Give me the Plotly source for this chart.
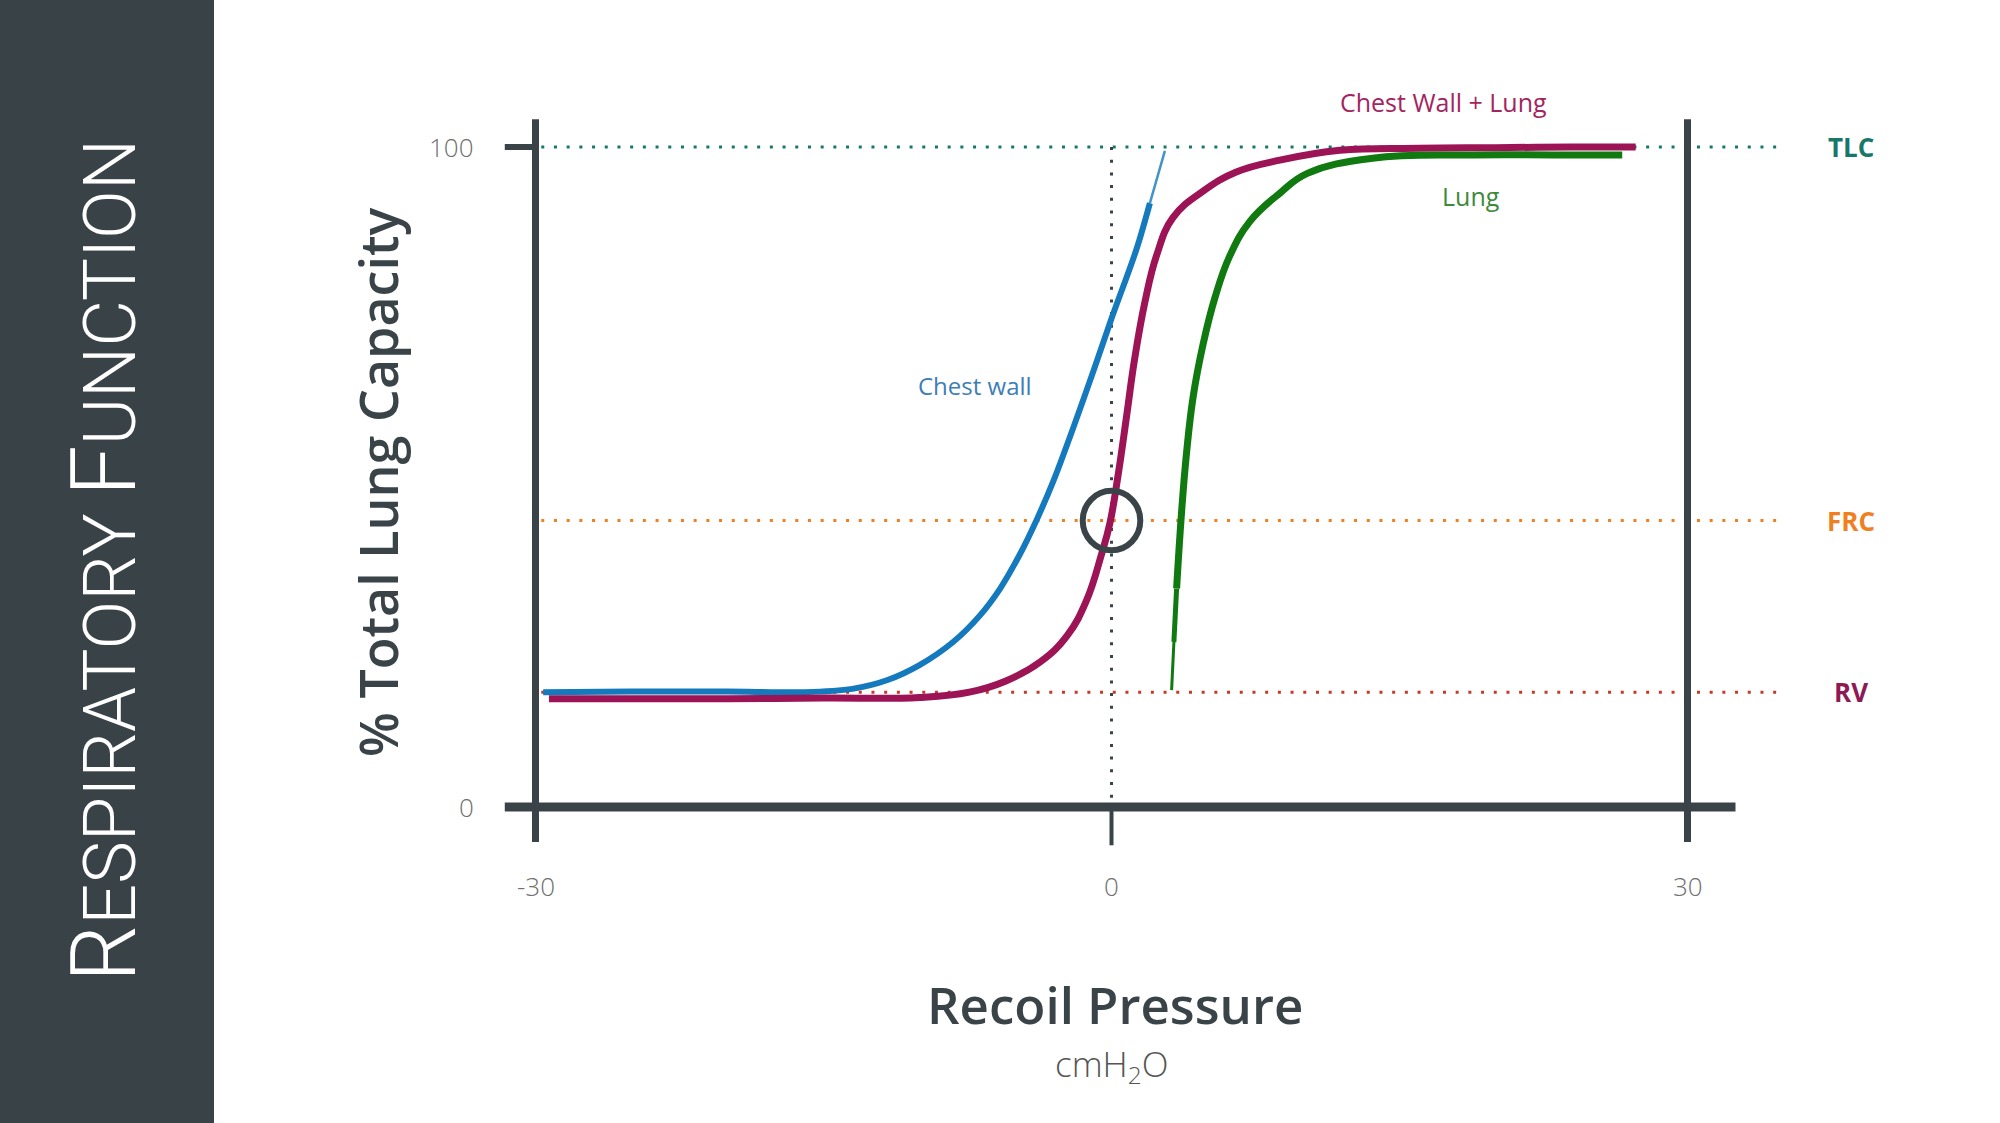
import plotly.graph_objects as go

# ---------------- data ----------------
# Chest wall compliance curve (pressure cmH2O, % TLC)
chest_wall_p = [-29.6, -25, -20, -16, -13.5, -11.7, -10, -8.25, -6.86, -5.8, -4.77, -3.9, -3.04, -2.0, -0.95, 0.0, 1.3, 2.0, 2.78]
chest_wall_v = [17.4, 17.5, 17.5, 17.4, 17.9, 19.2, 21.5, 25.0, 29.0, 33.1, 38.3, 43.5, 49.3, 57.4, 66.0, 74.0, 84.5, 91.5, 99.4]

# Chest wall + lung
combined_p = [-29.3, -25, -20, -15, -10, -7.4, -5.5, -3.7, -2.3, -1.3, -0.52, -0.09, 0.35, 0.78, 1.2, 1.74, 2.34, 3.2, 4.77, 6.5, 8.77, 11.9, 16, 20, 24, 27.3]
combined_v = [16.4, 16.4, 16.4, 16.5, 16.6, 17.4, 19.1, 22.0, 26.0, 31.3, 38.3, 42.9, 50.4, 59.1, 67.8, 76.5, 83.5, 89.3, 93.3, 96.2, 98.0, 99.5, 99.8, 99.9, 100.0, 100.0]

# Lung
lung_p = [3.13, 3.25, 3.39, 3.65, 3.9, 4.25, 4.77, 5.38, 6.16, 7.2, 8.77, 10.2, 13.6, 18.9, 23, 26.6]
lung_v = [17.7, 25.0, 33.1, 44.7, 53.4, 62.1, 70.1, 77.1, 83.5, 88.7, 93.0, 96.0, 98.3, 98.8, 98.8, 98.8]

# Reference volumes (% TLC)
ref_names = ["TLC", "FRC", "RV"]
ref_values = [100, 43.4, 17.4]

x_ticks = [-30, 0, 30]
x_tick_labels = ["-30", "0", "30"]
y_ticks = [0, 100]
y_tick_labels = ["0", "100"]

# ---------------- styling ----------------
W, H = 2000, 1123
ZERO_PX_X, PX_PER_P = 1111.5, 19.2
ZERO_PX_Y, PX_PER_V = 807.0, 6.6
xr = [(0 - ZERO_PX_X) / PX_PER_P, (W - ZERO_PX_X) / PX_PER_P]
yr = [(ZERO_PX_Y - H) / PX_PER_V, ZERO_PX_Y / PX_PER_V]

DARK = "#3a4448"
BLUE = "#1479bd"
PURPLE = "#9c1456"
GREEN = "#107a10"
TEAL = "#17786a"
ORANGE = "#f07f1f"
RVRED = "#c23a2a"
ref_line_colors = [TEAL, ORANGE, RVRED]
ref_label_colors = [TEAL, ORANGE, "#8e1a55"]
FONT = "Open Sans"

fig = go.Figure()

def line(x, y, color, width, dash=None, shape="linear", opacity=1.0, smoothing=1.0):
    ld = dict(color=color, width=width, dash=dash, shape=shape)
    if shape == "spline":
        ld["smoothing"] = smoothing
    fig.add_trace(go.Scatter(x=x, y=y, mode="lines", opacity=opacity, line=ld,
                             hoverinfo="skip", showlegend=False))

# reference dotted lines
for v, c in zip(ref_values, ref_line_colors):
    line([-29.7, 35.1], [v, v], c, 3, dash="3px,9.7px")
# vertical dotted line at 0
line([0, 0], [100, 0], DARK, 3, dash="3px,9.7px")

# axes frame
line([-30, -30], [104.2, -5.3], DARK, 7)
line([30, 30], [104.2, -5.3], DARK, 7)
line([-31.6, 32.5], [0, 0], DARK, 9)
line([0, 0], [0, -5.8], DARK, 4)
line([-31.6, -30], [100, 100], DARK, 6)

# curves: main body plus thinner end pieces (brush-like taper)
line(chest_wall_p[:-1], chest_wall_v[:-1], BLUE, 6, shape="spline", smoothing=0.9)
line(chest_wall_p[-2:], chest_wall_v[-2:], BLUE, 2.5, opacity=0.8)
line(combined_p, combined_v, PURPLE, 7, shape="spline", smoothing=1.2)
line(lung_p[2:], lung_v[2:], GREEN, 7, shape="spline", smoothing=1.2)
line(lung_p[1:3], lung_v[1:3], GREEN, 5)
line(lung_p[0:2], lung_v[0:2], GREEN, 3)

# FRC circle marker
fig.add_shape(type="circle", xref="x", yref="y",
              x0=-1.5, x1=1.5, y0=ref_values[1] - 4.5, y1=ref_values[1] + 4.5,
              line=dict(color=DARK, width=6))

# sidebar
fig.add_shape(type="rect", xref="paper", yref="paper", x0=0, x1=214 / W, y0=0, y1=1,
              fillcolor="#394347", line=dict(width=0), layer="below")

ann = []
def text(x, y, t, size, color, xanchor="center", yanchor="middle", weight=None, angle=0, family=FONT, ref="data"):
    f = dict(size=size, color=color, family=family)
    if weight:
        f["weight"] = weight
    d = dict(x=x, y=y, text=t, showarrow=False, font=f, xanchor=xanchor, yanchor=yanchor, textangle=angle)
    if ref == "paper":
        d.update(xref="paper", yref="paper")
    ann.append(d)

# tick labels
for v, t in zip(x_ticks, x_tick_labels):
    text(v, -11.9, t, 26, "#707070", weight=300)
for v, t in zip(y_ticks, y_tick_labels):
    text(-33.1, v, t, 26, "#707070", xanchor="right", weight=300)

# reference labels
for n_, v, c in zip(ref_names, ref_values, ref_label_colors):
    text(38.5, v, n_, 26, c, weight=700)

# curve labels
text(-7.1, 63.9, "Chest wall", 24, "#3d7eb5", weight=400)
text(17.3, 106.8, "Chest Wall + Lung", 25, "#a3255f", weight=400)
text(18.7, 92.6, "Lung", 25, "#3d8a3d", weight=400)

# axis titles
text(0.2, -29.8, "Recoil Pressure", 51, DARK, weight=600)
text(0.0, -39.1, "cmH<sub>2</sub>O", 35, "#555555", weight=300)
text(-38.2, 49.1, "% Total Lung Capacity", 52, DARK, weight=600, angle=-90)

# sidebar title (small caps)
title = ('<span style="font-size:90px">R</span>ESPIRATORY '
         '<span style="font-size:90px">F</span>UNCTION')
text(105 / W, 1 - 561 / H, title, 72, "#ffffff", angle=-90, family="Roboto", weight=300, ref="paper")

fig.update_layout(
    width=W, height=H,
    margin=dict(l=0, r=0, t=0, b=0),
    paper_bgcolor="white", plot_bgcolor="white",
    xaxis=dict(range=xr, visible=False, fixedrange=True),
    yaxis=dict(range=yr, visible=False, fixedrange=True),
    annotations=ann,
    showlegend=False,
)

fig.write_html("out.html", config={"displayModeBar": False},
               post_script="document.body.style.margin='0';document.body.style.overflow='hidden';")
